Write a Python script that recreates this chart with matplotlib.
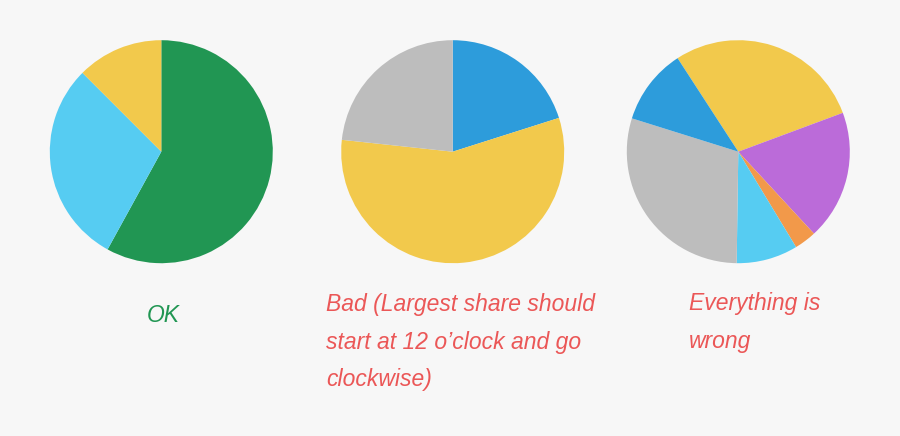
import matplotlib
matplotlib.use("Agg")
import matplotlib.pyplot as plt

# pie shares (percent), listed clockwise from each pie's start angle
ok_values = [58.0, 29.5, 12.5]
ok_colors = ["#219653", "#56CCF2", "#F2C94C"]

bad_values = [20.1, 56.6, 23.3]
bad_colors = ["#2D9CDB", "#F2C94C", "#BDBDBD"]

wrong_values = [28.5, 18.8, 3.2, 8.9, 29.6, 11.0]
wrong_colors = ["#F2C94C", "#BB6BD9", "#F2994A", "#56CCF2", "#BDBDBD", "#2D9CDB"]

ok_label = "OK"
bad_label = ["Bad (Largest share should", "start at 12 o\u2019clock and go", "clockwise)"]
wrong_label = ["Everything is", "wrong"]

W, H = 900, 436
bg = "#F7F7F7"
fig = plt.figure(figsize=(W / 100, H / 100), dpi=100, facecolor=bg)

font = dict(family=["Liberation Sans", "DejaVu Sans"], style="italic", fontsize=16.5)


def draw_pie(cx, cy, r, values, colors, start):
    ax = fig.add_axes([(cx - r) / W, 1 - (cy + r) / H, 2 * r / W, 2 * r / H])
    ax.pie(values, colors=colors, startangle=start, counterclock=False,
           wedgeprops=dict(linewidth=0))
    ax.set_xlim(-1, 1)
    ax.set_ylim(-1, 1)
    ax.set_aspect("equal")
    ax.axis("off")


draw_pie(161.3, 151.7, 111.5, ok_values, ok_colors, 90)
draw_pie(452.7, 151.7, 111.5, bad_values, bad_colors, 90)
draw_pie(738.3, 151.7, 111.5, wrong_values, wrong_colors, 90 - 327)

fig.text(163 / W, 1 - 322 / H, ok_label, color="#219653", ha="center", va="baseline", **font)
for i, line in enumerate(bad_label):
    fig.text(326 / W, 1 - (311 + i * 37.5) / H, line, color="#EB5757", ha="left", va="baseline", **font)
for i, line in enumerate(wrong_label):
    fig.text(689 / W, 1 - (310 + i * 37.5) / H, line, color="#EB5757", ha="left", va="baseline", **font)

fig.savefig("out.png", dpi=100, facecolor=bg)
